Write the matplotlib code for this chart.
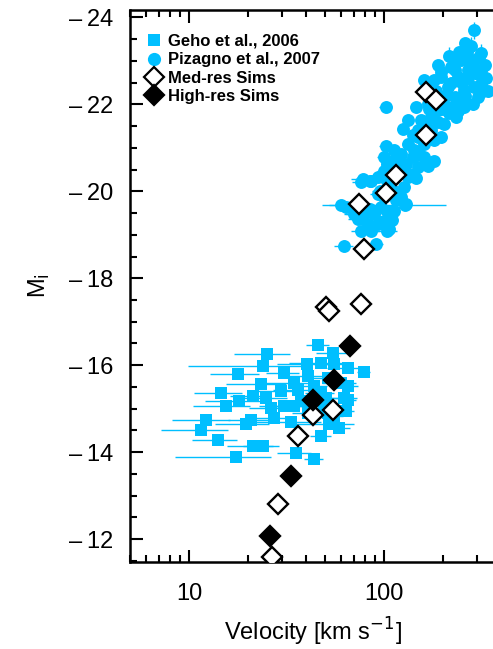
import matplotlib
matplotlib.use("Agg")
import matplotlib.pyplot as plt
from matplotlib.lines import Line2D
from matplotlib.ticker import LogLocator, FixedLocator, FixedFormatter, MultipleLocator, NullFormatter

plt.rcParams['font.family'] = ['Liberation Sans', 'DejaVu Sans']

BLUE = '#00BFFF'

# Geho et al. 2006 (dwarfs): velocity [km/s], M_i, velocity error
geho_v = [46.0, 25.1, 54.6, 23.9, 40.3, 47.5, 55.6, 65.2, 78.7, 17.8, 30.8, 40.6,
          23.4, 34.7, 60.2, 14.6, 21.2, 29.6, 36.1, 47.5, 62.6, 18.1, 24.8, 15.5,
          26.3, 30.8, 34.7, 49.4, 63.8, 27.4, 12.2, 20.8, 19.6, 33.3, 52.4, 59.0,
          11.5, 47.5, 14.0, 21.2, 23.9, 35.4, 17.4, 43.9, 51.4, 50.4, 43.9, 37.5,
          65.2, 65.2, 51.4, 40.6, 55.6]
geho_m = [-16.47, -16.25, -16.27, -15.98, -16.02, -16.06, -16.02, -15.94, -15.84, -15.79, -15.81, -15.75,
          -15.56, -15.60, -15.60, -15.35, -15.29, -15.41, -15.44, -15.37, -15.25, -15.18, -15.25, -15.06,
          -15.02, -15.06, -15.06, -15.02, -14.94, -14.79, -14.75, -14.75, -14.64, -14.69, -14.64, -14.56,
          -14.52, -14.37, -14.28, -14.15, -14.15, -13.98, -13.89, -13.85, -15.71, -15.25, -15.52, -15.18,
          -15.52, -15.21, -14.91, -14.91, -14.83]
geho_verr = [6, 8, 10, 14, 12, 15, 12, 14, 6, 5, 6, 8,
             8, 10, 12, 4, 5, 7, 9, 8, 10, 6, 7, 5,
             6, 8, 7, 9, 6, 7, 4, 5, 6, 14, 18, 8,
             4.3, 6, 3.6, 5.6, 5, 7, 8.9, 5, 10, 8, 7, 6,
             8, 7, 9, 7, 6]

# Pizagno et al. 2007: velocity [km/s], M_i, velocity error, magnitude error
piz_v = [290, 279, 314, 216, 243, 196, 161, 314, 302, 102, 146, 234, 132, 125, 181, 102,
         113, 104, 181, 168, 140, 76.2, 85.7, 127, 92.9, 130, 63.8, 73.3, 82.4, 106, 62.5, 91,
         100, 113, 196, 212, 239, 268, 290, 258, 230, 196, 212, 188, 174, 204, 155, 149,
         196, 161, 143, 149, 130, 122, 117, 108, 100, 132, 113, 100, 122, 96.4, 89, 104,
         93, 79, 70, 86, 76, 104, 93, 100, 132, 168, 221, 290, 248, 314, 181, 302,
         258, 230, 248, 128, 60, 77.6, 84.6, 260, 230, 330, 320,
         150, 170, 185, 205, 220, 250, 270, 280, 200, 175, 160, 140, 120, 135, 110, 95,
         105, 115, 85, 95, 110, 125, 150, 190, 230, 260, 285, 300, 240, 215, 145, 160,
         165, 190, 275, 305, 265, 340, 335]
piz_m = [-23.70, -23.35, -23.18, -23.12, -23.20, -22.74, -22.55, -22.47, -22.70, -21.95, -21.93, -21.70, -21.63, -21.44, -21.17, -21.05,
         -20.94, -20.63, -20.70, -20.59, -20.78, -20.21, -20.24, -20.09, -19.94, -19.71, -19.63, -19.36, -19.25, -19.13, -18.75, -18.79,
         -19.32, -19.55, -22.63, -22.39, -22.63, -22.78, -22.39, -22.32, -22.16, -22.09, -21.93, -21.86, -21.70, -21.55, -21.63, -21.24,
         -21.24, -21.09, -20.94, -20.55, -20.63, -20.86, -20.47, -20.32, -20.47, -20.32, -20.01, -19.86, -19.86, -19.63, -19.48, -19.55,
         -19.25, -19.48, -19.48, -19.09, -19.09, -19.09, -20.32, -20.78, -21.09, -22.01, -22.86, -23.01, -23.01, -22.78, -22.55, -22.16,
         -21.93, -21.93, -22.09, -19.69, -19.69, -20.28, -20.24, -23.40, -23.00, -22.90, -22.30,
         -21.40, -21.90, -22.30, -22.20, -22.50, -22.50, -22.60, -23.00, -21.90, -21.40, -21.20, -21.30, -20.60, -20.40, -20.70, -20.00,
         -20.20, -19.80, -19.60, -19.30, -19.35, -20.50, -20.90, -22.90, -22.80, -22.20, -22.00, -22.80, -21.85, -21.80, -20.30, -20.80,
         -21.60, -21.60, -22.95, -23.10, -23.20, -22.30, -22.60]
piz_verr = [15, 14, 16, 12, 12, 10, 9, 15, 15, 8, 9, 12, 8, 8, 10, 8,
            8, 8, 10, 9, 9, 8, 9, 9, 8, 9, 7, 8, 8, 8, 7, 8,
            8, 8, 10, 11, 12, 13, 14, 13, 12, 10, 11, 10, 10, 11, 9, 9,
            10, 9, 9, 9, 9, 8, 8, 8, 8, 9, 8, 8, 8, 28, 8, 8,
            8, 15, 8, 8, 8, 12, 8, 8, 9, 9, 11, 14, 12, 15, 10, 14,
            13, 12, 12, 80, 8, 10, 10, 13, 12, 16, 15,
            9, 9, 10, 10, 11, 12, 13, 13, 10, 9, 9, 8, 8, 8, 8, 8,
            8, 8, 8, 8, 8, 8, 9, 10, 11, 12, 13, 14, 12, 11, 9, 9,
            9, 10, 13, 14, 13, 16, 16]
piz_merr = [0.2] * 4 + [0.12] * 126

# Simulations
med_v = [26.5, 28.6, 36.3, 43.4, 54.6, 50.4, 52.4, 76.2, 79.0, 74.6, 102.5, 115, 164, 164, 185]
med_m = [-11.59, -12.80, -14.37, -14.85, -14.97, -17.33, -17.25, -17.40, -18.67, -19.70, -19.95, -20.38, -21.29, -22.28, -22.11]
high_v = [26.1, 33.3, 43.1, 55.2, 67.2]
high_m = [-12.08, -13.45, -15.20, -15.66, -16.44]

legend_labels = ['Geho et al., 2006', 'Pizagno et al., 2007', 'Med-res Sims', 'High-res Sims']
x_ticks = [10, 100]
x_ticklabels = ['10', '100']
y_ticks = [-24, -22, -20, -18, -16, -14, -12]
y_ticklabels = ['\u2013\u200924', '\u2013\u200922', '\u2013\u200920', '\u2013\u200918',
                '\u2013\u200916', '\u2013\u200914', '\u2013\u200912']

fig = plt.figure(figsize=(4.93, 6.49), dpi=100)
ax = fig.add_axes([130 / 493, 1 - 561.7 / 649, (496 - 130) / 493, (561.7 - 10) / 649])

ax.errorbar(geho_v, geho_m, xerr=geho_verr, fmt='none', ecolor=BLUE, elinewidth=1.0, capsize=0, zorder=1)
ax.plot(geho_v, geho_m, 's', color=BLUE, markersize=8.3, markeredgewidth=0, zorder=2)
ax.errorbar(piz_v, piz_m, xerr=piz_verr, yerr=piz_merr, fmt='none', ecolor=BLUE, elinewidth=1.0, capsize=0, zorder=1)
ax.plot(piz_v, piz_m, 'o', color=BLUE, markersize=9.3, markeredgewidth=0, zorder=2)
ax.plot(med_v, med_m, 'D', markerfacecolor='white', markeredgecolor='black', markersize=10.2, markeredgewidth=1.7, linestyle='none', zorder=4)
ax.plot(high_v, high_m, 'D', color='black', markersize=10.2, markeredgewidth=1.7, linestyle='none', zorder=4)

ax.set_xscale('log')
ax.set_xlim(4.98, 375)
ax.set_ylim(-11.48, -24.17)

ax.xaxis.set_major_locator(FixedLocator(x_ticks))
ax.xaxis.set_major_formatter(FixedFormatter(x_ticklabels))
ax.xaxis.set_minor_locator(LogLocator(base=10, subs=[2, 3, 4, 5, 6, 7, 8, 9]))
ax.xaxis.set_minor_formatter(NullFormatter())
ax.yaxis.set_major_locator(FixedLocator(y_ticks))
ax.yaxis.set_major_formatter(FixedFormatter(y_ticklabels))
ax.yaxis.set_minor_locator(MultipleLocator(0.5))

ax.tick_params(which='both', direction='in', top=True, right=False, width=1.5, labelsize=17, color='black')
ax.tick_params(which='major', length=9)
ax.tick_params(which='minor', length=5)
ax.tick_params(axis='x', pad=15)
ax.tick_params(axis='y', pad=12)
for s in ax.spines.values():
    s.set_linewidth(1.8)
ax.spines['right'].set_visible(False)

ax.set_xlabel('Velocity [km s$^{-1}$]', fontsize=17, labelpad=8)
ax.set_ylabel('M$_{\\rm i}$', fontsize=17, labelpad=12)

handles = [
    Line2D([], [], marker='s', color=BLUE, linestyle='none', markersize=9, markeredgewidth=0),
    Line2D([], [], marker='o', color=BLUE, linestyle='none', markersize=9.5, markeredgewidth=0),
    Line2D([], [], marker='D', markerfacecolor='white', markeredgecolor='black', linestyle='none', markersize=10, markeredgewidth=1.6),
    Line2D([], [], marker='D', color='black', linestyle='none', markersize=10, markeredgewidth=1.6),
]
leg = ax.legend(handles, legend_labels, loc='upper left', bbox_to_anchor=(147 / 493, 1 - 34 / 649),
                bbox_transform=fig.transFigure, frameon=False, handlelength=0.8, handletextpad=0.45,
                labelspacing=0.2, borderpad=0, borderaxespad=0,
                prop={'family': 'Liberation Sans', 'weight': 'bold', 'size': 12})

fig.savefig('out.png', dpi=100)
